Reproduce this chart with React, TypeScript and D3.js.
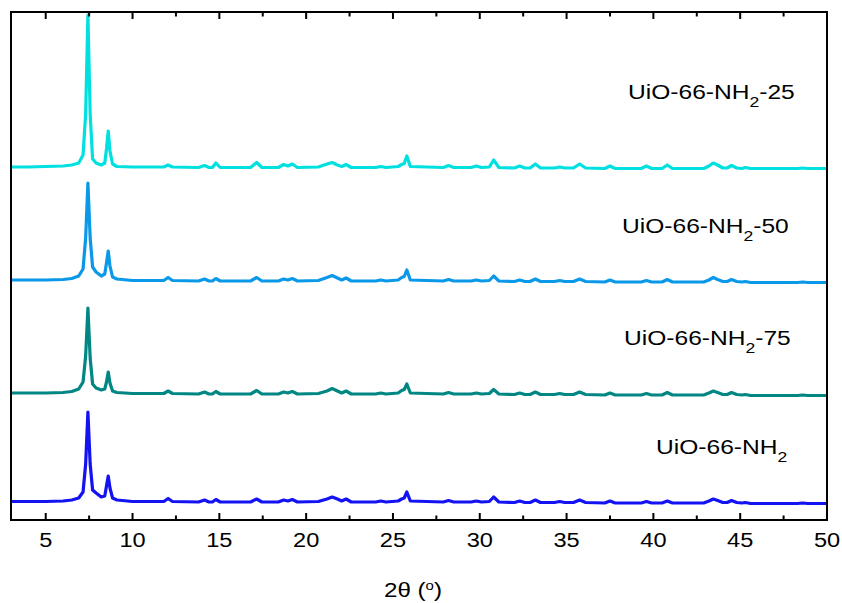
import React from "react";
import * as d3 from "d3";

// 2θ grid (degrees) shared by all patterns
const twoTheta = [
  3.0, 4.0, 5.0, 6.0, 6.5, 6.9, 7.15, 7.3, 7.43, 7.56,
  7.7, 7.9, 8.2, 8.4, 8.5, 8.6, 8.7, 8.85, 9.1, 10,
  11, 11.8, 12.05, 12.3, 13.8, 14.15, 14.4, 14.6, 14.8, 15.05,
  16.8, 17.15, 17.45, 18.4, 18.7, 18.95, 19.2, 19.5, 20.7, 21.2,
  21.5, 21.8, 22.05, 22.3, 22.6, 24.0, 24.3, 24.6, 25.3, 25.5,
  25.65, 25.8, 26.0, 27.9, 28.2, 28.5, 29.5, 29.8, 30.1, 30.55,
  30.8, 31.1, 32.0, 32.3, 32.6, 32.9, 33.2, 33.5, 34.3, 34.6,
  34.9, 35.4, 35.75, 36.1, 37.2, 37.5, 37.8, 39.3, 39.6, 39.9,
  40.5, 40.8, 41.1, 42.9, 43.2, 43.45, 43.7, 44.0, 44.25, 44.5,
  44.8, 45.1, 45.3, 45.6, 48.3, 48.6, 48.9, 50.0,
];

// Intensities (a.u.) of each sample
const intNH2 = [
  2.5, 2.5, 2.5, 3, 4, 6, 12, 40, 92, 40,
  14, 11, 7, 8, 18, 28, 16, 6, 4, 2.5,
  2.5, 2.5, 5.5, 2.5, 2, 4, 2, 2, 4.5, 2,
  2, 5, 2, 2, 4, 3, 4.5, 2, 2.5, 5,
  7, 5, 3, 5, 2, 2, 3, 2, 3, 5,
  6, 12, 3, 2, 3.5, 2, 2, 3, 2, 2.5,
  7, 2, 1.5, 3, 1.5, 1.5, 4, 1.5, 1.5, 2.5,
  1.5, 1.5, 4, 1.5, 1, 3, 1, 1, 2.5, 1,
  1, 3, 1, 1, 3, 5, 3.5, 1.5, 1.5, 3.5,
  1.5, 1, 1.5, 0.5, 0.5, 1, 0.5, 0.5,
];
const intNH2_75 = [
  3, 3, 3, 3.5, 4.5, 7, 14, 40, 88, 38,
  12, 8, 6, 7, 14, 24, 13, 5, 3.5, 2.5,
  2.5, 2.5, 5, 2.5, 2, 4, 2, 2, 4.5, 2,
  2, 5.5, 2, 2, 4, 3, 4.5, 2, 2.5, 5,
  7.5, 5, 3, 5, 2, 2, 3, 2, 3, 5.5,
  6.5, 12, 3, 2, 3.5, 2, 2, 3, 2, 2.5,
  6.5, 2, 1.5, 3, 1.5, 1.5, 4, 1.5, 1.5, 2.5,
  1.5, 1.5, 4, 1.5, 1, 3, 1, 1, 2.5, 1,
  1, 3.5, 1, 1, 3, 5, 3.5, 1.5, 1.5, 3.5,
  1.5, 1, 1.5, 0.5, 0.5, 1, 0.5, 0.5,
];
const intNH2_50 = [
  3, 3, 3, 3.5, 4.5, 7, 14, 45, 100, 45,
  16, 11, 7, 9, 20, 32, 17, 6, 4, 2.5,
  2.5, 2.5, 5.5, 2.5, 2, 4, 2, 2, 4.5, 2,
  2, 5.5, 2, 2, 4, 3, 4.5, 2, 2.5, 5.5,
  7.5, 5, 3, 5, 2, 2, 3, 2, 3, 5.5,
  6.5, 13, 3, 2, 3.5, 2, 2, 3, 2, 2.5,
  7, 2, 1.5, 3, 1.5, 1.5, 4, 1.5, 1.5, 2.5,
  1.5, 1.5, 4, 1.5, 1, 3, 1, 1, 2.5, 1,
  1, 3.5, 1, 1, 3, 5.5, 3.5, 1.5, 1.5, 3.5,
  1.5, 1, 1.5, 0.5, 0.5, 1, 0.5, 0.5,
];
const intNH2_25 = [
  2, 2, 2.5, 3, 4, 6, 14, 55, 154, 55,
  10, 6, 4, 6, 20, 38, 18, 5, 2.5, 2,
  2, 2, 4, 2, 1.5, 3.5, 1.5, 1.5, 6, 1.5,
  1.5, 6.5, 1.5, 1.5, 4.5, 3, 5, 1.5, 2, 5,
  6.5, 4, 2.5, 4.5, 1.5, 1.5, 2.5, 1.5, 2.5, 4.5,
  5.5, 13, 2.5, 1.5, 3.5, 1.5, 1.5, 3, 1.5, 2,
  9, 1.5, 1, 3, 1, 1, 5, 1, 1, 2,
  1, 1, 5, 1, 0.5, 3, 0.5, 0.5, 3, 0.5,
  0.5, 4, 0.5, 0.5, 3, 6, 4, 1, 1, 3.5,
  1, 0.5, 1.5, 0.5, 0.5, 1, 0.5, 0.5,
];

const seriesNames = ["UiO-66-NH2", "UiO-66-NH2-75", "UiO-66-NH2-50", "UiO-66-NH2-25"];
const seriesOffsets = [16, 124, 237, 351];
const seriesColors = ["#1212f2", "#008683", "#0a98e8", "#00e0e0"];
const xTicks = [5, 10, 15, 20, 25, 30, 35, 40, 45, 50];
const xMinorTicks = [7.5, 12.5, 17.5, 22.5, 27.5, 32.5, 37.5, 42.5, 47.5];

const W = 842;
const H = 603;
const left = 11;
const right = 827;
const top = 12;
const bottom = 520;
const SX = 1.15; // horizontal stretch of the text in the original picture

export default function App() {
  const x = d3.scaleLinear().domain([3, 50]).range([left, right]);
  const y = d3.scaleLinear().domain([0, bottom - top]).range([bottom, top]);
  const series = [intNH2, intNH2_75, intNH2_50, intNH2_25];
  const line = d3
    .line<[number, number]>()
    .x((d) => x(d[0]))
    .y((d) => y(d[1]))
    .curve(d3.curveLinear);

  const labels = [
    { suf: "", x: 656, y: 454 },
    { suf: "-75", x: 624, y: 345 },
    { suf: "-50", x: 622, y: 233 },
    { suf: "-25", x: 628, y: 99 },
  ];

  return (
    <svg
      width={W}
      height={H}
      style={{ position: "absolute", left: 0, top: 0, background: "#fff" }}
      fontFamily="'Liberation Sans', Arial, sans-serif"
    >
      <defs>
        <clipPath id="plotclip">
          <rect x={left} y={top} width={right - left} height={bottom - top} />
        </clipPath>
      </defs>
      <g clipPath="url(#plotclip)">
        {series.map((vals, i) => {
          const pts: [number, number][] = twoTheta.map((t, k) => [t, vals[k] + seriesOffsets[i]]);
          return (
            <path
              key={seriesNames[i]}
              d={line(pts) || ""}
              fill="none"
              stroke={seriesColors[i]}
              strokeWidth={3.2}
              strokeLinejoin="round"
              strokeLinecap="round"
            />
          );
        })}
      </g>
      {/* frame */}
      <rect
        x={left}
        y={top}
        width={right - left}
        height={bottom - top}
        fill="none"
        stroke="#000"
        strokeWidth={2}
      />
      {/* ticks */}
      {xTicks.map((t) => (
        <g key={"M" + t}>
          <line x1={x(t)} x2={x(t)} y1={bottom} y2={bottom - 7} stroke="#000" strokeWidth={2} />
          <line x1={x(t)} x2={x(t)} y1={top} y2={top + 7} stroke="#000" strokeWidth={2} />
          <text
            transform={`translate(${x(t)},546.5) scale(${SX},1)`}
            fontSize={20.5}
            textAnchor="middle"
            fill="#000"
          >
            {t}
          </text>
        </g>
      ))}
      {xMinorTicks.map((t) => (
        <g key={"m" + t}>
          <line x1={x(t)} x2={x(t)} y1={bottom} y2={bottom - 4.5} stroke="#000" strokeWidth={2} />
          <line x1={x(t)} x2={x(t)} y1={top} y2={top + 4.5} stroke="#000" strokeWidth={2} />
        </g>
      ))}
      <text
        transform={`translate(413,597) scale(${SX},1)`}
        fontSize={21}
        textAnchor="middle"
        fill="#000"
      >
        2θ (<tspan dy={-7} fontSize={13}>o</tspan>
        <tspan dy={7}>)</tspan>
      </text>
      {labels.map((l, i) => (
        <text
          key={seriesNames[i]}
          transform={`translate(${l.x},${l.y}) scale(1.17,1)`}
          fontSize={21}
          fill="#000"
        >
          UiO-66-NH
          <tspan dy={8} fontSize={15}>2</tspan>
          <tspan dy={-8}>{l.suf}</tspan>
        </text>
      ))}
    </svg>
  );
}
